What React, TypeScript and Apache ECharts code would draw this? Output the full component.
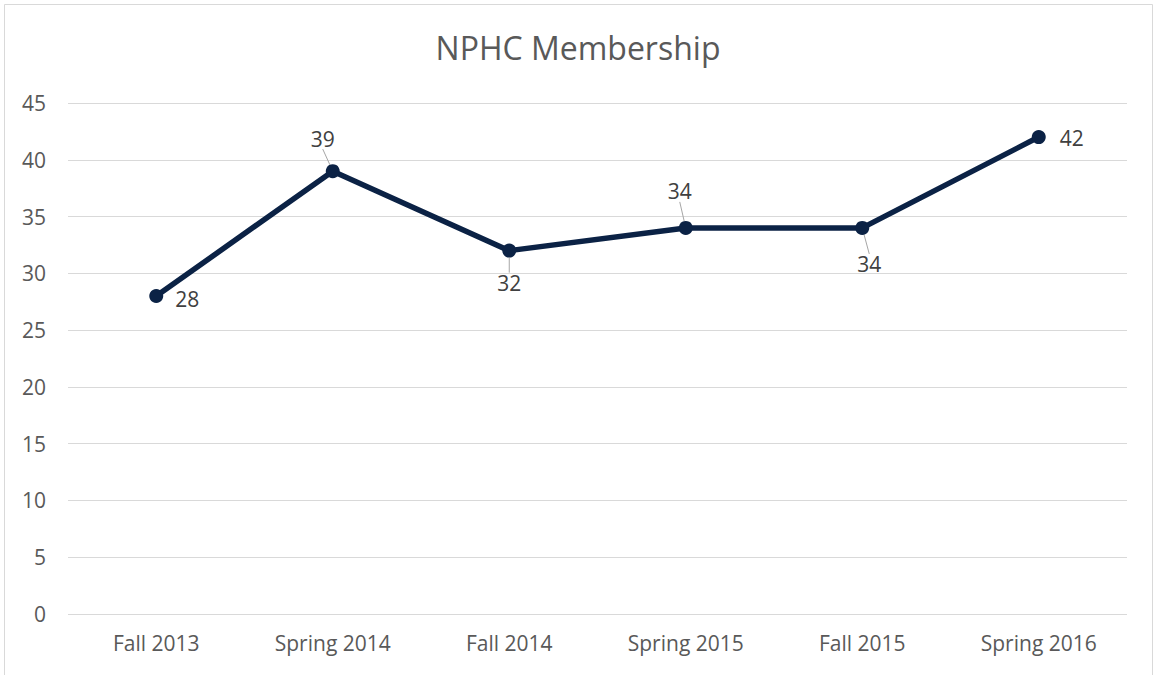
import React, { useEffect, useRef } from "react";
import * as echarts from "echarts";

const categories = ["Fall 2013", "Spring 2014", "Fall 2014", "Spring 2015", "Fall 2015", "Spring 2016"];
const membership = [28, 39, 32, 34, 34, 42];
const labelPositions = ["right", "top", "bottom", "top", "bottom", "right"];
const labelShifts: number[][] = [[4, 3], [-10, -7], [0, 7], [-6, -11], [7, 11], [6, 1]];
const showLeader = [false, true, true, true, true, false];

export default function App() {
  const ref = useRef<HTMLDivElement>(null);
  useEffect(() => {
    const chart = echarts.init(ref.current!, undefined, { renderer: "svg" });
    const font = "'Open Sans', 'Noto Sans', sans-serif";
    chart.setOption({
      animation: false,
      backgroundColor: "#ffffff",
      title: {
        text: "NPHC Membership",
        left: "center",
        top: 26,
        textStyle: { fontFamily: font, fontSize: 32, fontWeight: "normal", color: "#595959" },
      },
      graphic: [
        {
          type: "rect",
          shape: { x: 4.5, y: 4.5, width: 1148, height: 690 },
          style: { fill: "none", stroke: "#d9d9d9", lineWidth: 1 },
          silent: true,
        },
      ],
      grid: { left: 68, right: 29, top: 103, bottom: 61 },
      xAxis: {
        type: "category",
        data: categories,
        boundaryGap: true,
        axisLine: { show: false },
        axisTick: { show: false },
        axisLabel: { color: "#595959", fontSize: 21, fontFamily: font, margin: 18 },
      },
      yAxis: {
        type: "value",
        min: 0,
        max: 45,
        interval: 5,
        axisLine: { show: false },
        axisTick: { show: false },
        axisLabel: { color: "#595959", fontSize: 21, fontFamily: font, margin: 22 },
        splitLine: { lineStyle: { color: "#d9d9d9", width: 1 } },
      },
      series: [
        {
          type: "line",
          data: membership.map((v, i) => ({
            value: v,
            label: { position: labelPositions[i] },
            labelLine: { show: showLeader[i] },
          })),
          symbol: "circle",
          symbolSize: 14,
          lineStyle: { color: "#0b2245", width: 5.5 },
          itemStyle: { color: "#0b2245" },
          label: {
            show: true,
            color: "#404040",
            fontSize: 21,
            fontFamily: font,
            distance: 8,
          },
          labelLine: { show: true, lineStyle: { color: "#a6a6a6", width: 1 } },
          labelLayout: (p: any) => ({ dx: labelShifts[p.dataIndex][0], dy: labelShifts[p.dataIndex][1] }),
        },
      ],
    });
    return () => chart.dispose();
  }, []);
  return (
    <div
      ref={ref}
      style={{ position: "fixed", left: 0, top: 0, width: 1156, height: 675 }}
    />
  );
}
